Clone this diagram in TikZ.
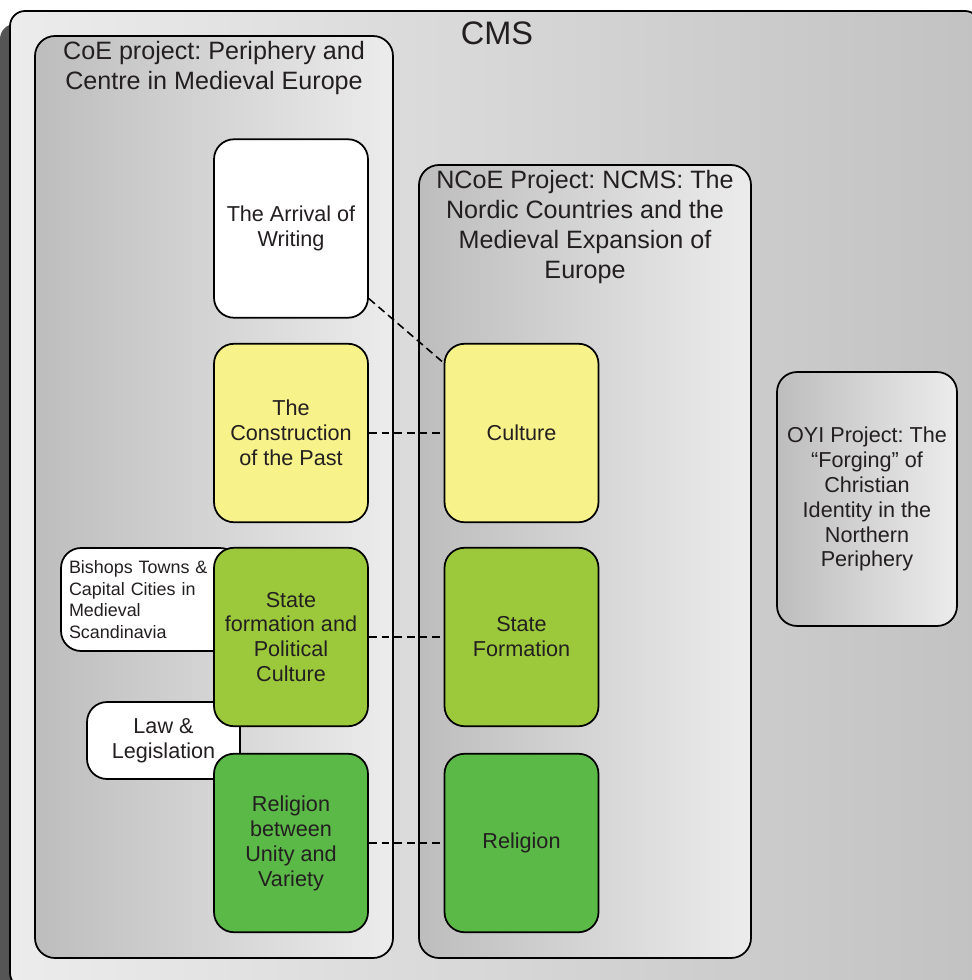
\documentclass[tikz,border=0pt]{standalone}
\usepackage{fontspec}
\setmainfont{Liberation Sans}
\usetikzlibrary{math}
\frenchspacing

\definecolor{txt}{HTML}{231F20}
\definecolor{shadowgrey}{HTML}{555555}
\definecolor{outerlight}{HTML}{ECECEC}
\definecolor{outerdark}{HTML}{C2C2C2}
\definecolor{framedark}{HTML}{BDBDBD}
\definecolor{framelight}{HTML}{ECECEC}
\definecolor{paleyellow}{HTML}{F8F28A}
\definecolor{limegreen}{HTML}{9CC93B}
\definecolor{leafgreen}{HTML}{5BB947}

\tikzset{
  frame/.style = {draw, line width=1pt, rounded corners=0.4cm, left color=framedark, right color=framelight},
  topic/.style = {draw, line width=1pt, rounded corners=0.4cm, minimum width=3.08cm, minimum height=3.57cm,
                  align=center, text=txt, font=\fontsize{12.3}{14.2}\selectfont, inner sep=2pt},
  side/.style  = {draw, line width=1pt, rounded corners=0.4cm, fill=white, text=txt},
  head/.style  = {align=center, text=txt, font=\fontsize{14.3}{17.2}\selectfont},
  link/.style  = {dash pattern=on 4.5pt off 2.7pt, line width=0.9pt}
}

\begin{document}
\begin{tikzpicture}[x=0.02cm, y=-0.02cm]

    \useasboundingbox (0,0) rectangle (972,980);
    \clip (0,0) rectangle (972,980);

    \tikzmath{\xl = 291;};
    \tikzmath{\xr = 521.5;};

    % outer frame with its shadow
    \fill[shadowgrey, rounded corners=0.3cm] (0,24) rectangle (972,1000);
    \shadedraw[line width=1pt, rounded corners=0.3cm, left color=outerlight, right color=outerdark] (10,11) rectangle (980,988);
    \node[text=txt, font=\fontsize{18.5}{22}\selectfont] (cms) at (497,33) {CMS};

    % the two project frames
    \shadedraw[frame] (35,36) rectangle (393,958);
    \node[head] (coe) at (214,68) {CoE project: Periphery and\\Centre in Medieval Europe};
    \shadedraw[frame] (419,165) rectangle (751,958);
    \node[head] (ncoe) at (585,227) {NCoE Project: NCMS: The\\Nordic Countries and the\\Medieval Expansion of\\Europe};

    \node[frame, minimum width=3.6cm, minimum height=5.08cm, align=center, text=txt,
          font=\fontsize{12.3}{14.2}\selectfont] (oyi) at (867,499)
          {OYI Project: The\\“Forging” of\\Christian\\Identity in the\\Northern\\Periphery};

    % small boxes behind the left column
    \node[side, minimum width=3.58cm, minimum height=2.06cm, text width=3.26cm, align=left, inner xsep=0.16cm,
          font=\fontsize{10.2}{12.3}\selectfont] (towns) at (150.5,599.5)
          {Bishops Towns \&\\Capital Cities in\\Medieval\\Scandinavia};
    \node[side, minimum width=3.06cm, minimum height=1.54cm, align=center,
          font=\fontsize{12.3}{14.2}\selectfont] (law) at (163.5,740.5) {Law \&\\Legislation};

    % left column
    \node[topic, fill=white] (arrival) at (\xl,228.5) {The Arrival of\\Writing};
    \node[topic, fill=paleyellow] (past) at (\xl,433) {The\\Construction\\of the Past};
    \node[topic, fill=limegreen] (statepol) at (\xl,637) {State\\formation and\\Political\\Culture};
    \node[topic, fill=leafgreen] (unity) at (\xl,843) {Religion\\between\\Unity and\\Variety};

    % right column
    \node[topic, fill=paleyellow] (culture) at (\xr,433) {Culture};
    \node[topic, fill=limegreen] (stateform) at (\xr,637) {State\\Formation};
    \node[topic, fill=leafgreen] (religion) at (\xr,843) {Religion};

    \draw[link] (arrival.-42) -- (culture.138);
    \draw[link] (past) -- (culture);
    \draw[link] (statepol) -- (stateform);
    \draw[link] (unity) -- (religion);

\end{tikzpicture}
\end{document}
